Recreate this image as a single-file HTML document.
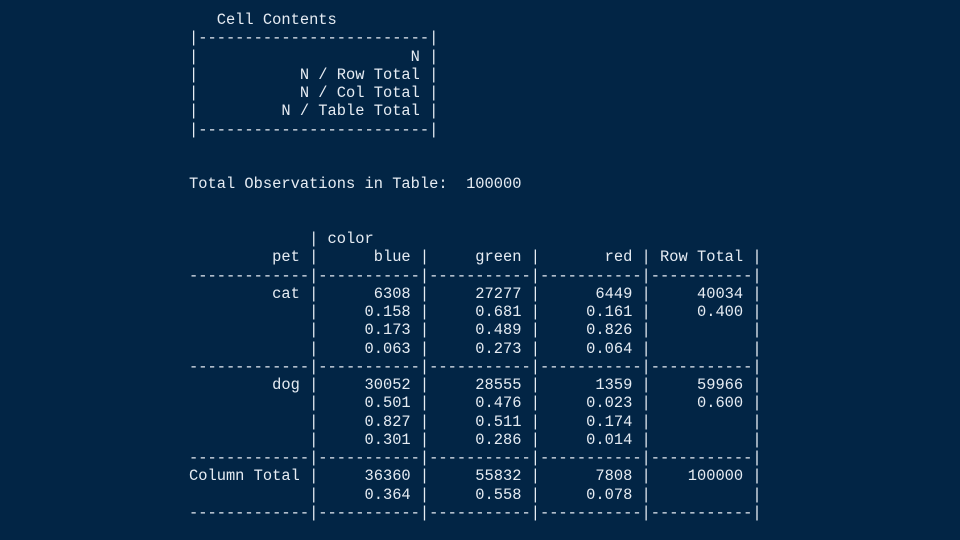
<!DOCTYPE html>
<html><head><meta charset="utf-8"><style>
html,body{margin:0;padding:0;width:960px;height:540px;background:#022545;overflow:hidden}
pre{position:absolute;left:189px;top:11px;margin:0;font-family:"Liberation Mono",monospace;font-size:15.4px;line-height:18.25px;color:#e6ecf3}
</style></head><body><pre>   Cell Contents
|-------------------------|
|                       N |
|           N / Row Total |
|           N / Col Total |
|         N / Table Total |
|-------------------------|

 
Total Observations in Table:  100000 

 
             | color 
         pet |      blue |     green |       red | Row Total | 
-------------|-----------|-----------|-----------|-----------|
         cat |      6308 |     27277 |      6449 |     40034 | 
             |     0.158 |     0.681 |     0.161 |     0.400 | 
             |     0.173 |     0.489 |     0.826 |           | 
             |     0.063 |     0.273 |     0.064 |           | 
-------------|-----------|-----------|-----------|-----------|
         dog |     30052 |     28555 |      1359 |     59966 | 
             |     0.501 |     0.476 |     0.023 |     0.600 | 
             |     0.827 |     0.511 |     0.174 |           | 
             |     0.301 |     0.286 |     0.014 |           | 
-------------|-----------|-----------|-----------|-----------|
Column Total |     36360 |     55832 |      7808 |    100000 | 
             |     0.364 |     0.558 |     0.078 |           | 
-------------|-----------|-----------|-----------|-----------|</pre></body></html>
